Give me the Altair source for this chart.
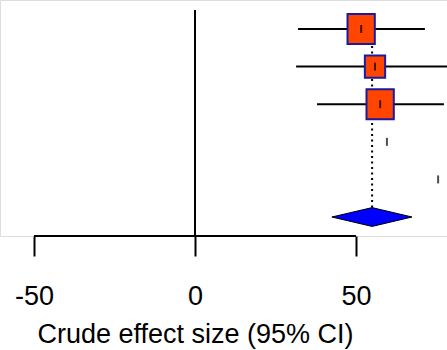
import altair as alt
import pandas as pd

# ---- data ----
rows = [1, 2, 3, 4, 5]
est = [51.6, 55.9, 57.5, 59.6, 75.5]
lo = [32.0, 31.4, 37.9, None, None]
hi = [71.4, 84.0, 77.3, None, None]
weights = [38.0, 21.0, 38.0, 0.0, 0.0]

summary_row = [6]
summary_est = [55.0]
summary_lo = [42.5]
summary_hi = [67.4]

tick_values = [-50, 0, 50]
x_title = "Crude effect size (95% CI)"

W, H = 447, 236
FONT = "Liberation Sans"

studies = pd.DataFrame({"row": rows, "est": est, "lo": lo, "hi": hi, "w": weights})
ci = studies.dropna(subset=["lo", "hi"])

s = pd.DataFrame({"row": summary_row, "est": summary_est, "lo": summary_lo, "hi": summary_hi})
half = 0.25
diamond = pd.DataFrame({
    "x": [s.lo[0], s.est[0], s.hi[0]],
    "y1": [s.row[0], s.row[0] - half, s.row[0]],
    "y2": [s.row[0], s.row[0] + half, s.row[0]],
})

xscale = alt.Scale(domain=[-60.56, 78.26], nice=False, zero=False)
yscale = alt.Scale(domain=[0.2287, 6.505], reverse=True, nice=False, zero=False)

xaxis = alt.Axis(values=tick_values, grid=False, domain=False, domainOpacity=0,
                 domainColor="transparent", ticks=True,
                 tickSize=20, tickWidth=2, tickColor="black",
                 labelExpr="'' + datum.value",
                 labelFont=FONT, labelFontSize=27, labelColor="black",
                 labelBaseline="alphabetic", labelPadding=48, labelFlush=False,
                 title=x_title, titleFont=FONT, titleFontSize=27,
                 titleFontWeight="normal", titleColor="black",
                 titleX=195, titleY=106, titleBaseline="alphabetic",
                 titleAlign="center", titleAnchor="start")

base = alt.Chart(studies)

zero_line = alt.Chart(pd.DataFrame({"x": [0]})).mark_rule(color="black", strokeWidth=2).encode(
    x=alt.X("x:Q", scale=xscale, axis=xaxis), y=alt.value(10), y2=alt.value(H))

# dotted line from top down to the diamond's upper tip
dotted = alt.Chart(s).transform_calculate(top="datum.row - 0.25").mark_rule(
    color="black", strokeWidth=2, strokeDash=[2, 3.5]).encode(
    x=alt.X("est:Q", scale=xscale, axis=xaxis),
    y=alt.Y("top:Q", scale=yscale, axis=None),
    y2=alt.value(10))

ci_lines = alt.Chart(ci).mark_rule(color="black", strokeWidth=2).encode(
    x=alt.X("lo:Q", scale=xscale, axis=xaxis), x2="hi:Q",
    y=alt.Y("row:Q", scale=yscale, axis=None))

boxes = base.mark_point(shape="M-0.91,-1H0.91V1H-0.91Z", filled=True, fill="#FF4500",
                        stroke="#1a1aa0", strokeWidth=2, opacity=1).encode(
    x=alt.X("est:Q", scale=xscale, axis=xaxis),
    y=alt.Y("row:Q", scale=yscale, axis=None),
    size=alt.Size("w:Q", scale=alt.Scale(domain=[0, 38], range=[0, 900]), legend=None))

ticks = base.mark_tick(orient="vertical", color="black", size=8, thickness=2).encode(
    x=alt.X("est:Q", scale=xscale, axis=xaxis),
    y=alt.Y("row:Q", scale=yscale, axis=None))

diam = alt.Chart(diamond).mark_area(orient="vertical", color="#0000FF", stroke="black",
                                    strokeWidth=1, opacity=1).encode(
    x=alt.X("x:Q", scale=xscale, axis=xaxis),
    y=alt.Y("y1:Q", scale=yscale, axis=None), y2="y2:Q")

axis_line = alt.Chart(pd.DataFrame({"a": [min(tick_values)], "b": [max(tick_values)]})).mark_rule(
    color="black", strokeWidth=2).encode(
    x=alt.X("a:Q", scale=xscale, axis=xaxis), x2="b:Q", y=alt.value(H))

chart = alt.layer(zero_line, dotted, ci_lines, boxes, ticks, diam, axis_line).properties(
    width=W, height=H,
    autosize=alt.AutoSizeParams(type="none"),
    padding={"left": 0, "top": 0, "right": 0, "bottom": 350 - H},
).configure_view(stroke="transparent", strokeWidth=0, strokeOpacity=0).configure_axis(
    domain=False, grid=False, domainOpacity=0).configure(background="white")

chart.save("out.html", embed_options={"renderer": "svg", "actions": False})
